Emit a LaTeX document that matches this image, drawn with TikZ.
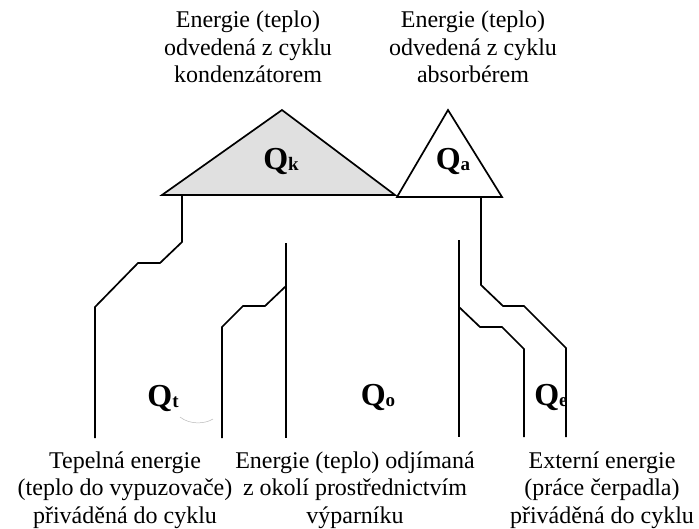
\documentclass[tikz,border=0pt]{standalone}
\usepackage{fontspec}
\setmainfont{Liberation Serif}
\usetikzlibrary{calc,positioning}
\definecolor{KondColor}{RGB}{224,224,224}
\newcommand{\qlab}[1]{{\fontsize{32}{32}\selectfont\bfseries Q\raisebox{-1.5pt}{\fontsize{19}{19}\selectfont #1}}}

\begin{document}
\begin{tikzpicture}[x=1pt,y=-1pt,line width=1.7pt,line join=miter,
  every node/.style={align=center,font=\fontsize{24}{27.5}\selectfont}]
\useasboundingbox (0,0) rectangle (699,528);
% trojuhelniky
\coordinate (kl) at (162,195); \coordinate (kt) at (282,110); \coordinate (kr) at (395,195);
\coordinate (al) at (397,197); \coordinate (at) at (448,110); \coordinate (ar) at (502,197);
\draw[fill=KondColor] (kl) -- (kt) -- (kr) -- cycle;
\draw (al) -- (at) -- (ar) -- cycle;
\node (qk) at (281,161) {\qlab{k}};
\node (qa) at (453,161) {\qlab{a}};
% potrubi
\coordinate (kp) at (182,195);
\coordinate (ap) at (481,197);
\draw (kp) -- (182,242) -- (160,263) -- (138,263) -- (95,307) -- (95,438);
\draw (286,243) -- (286,438);
\draw (286,286) -- (265,306) -- (243,306) -- (222,327) -- (222,438);
\draw (459,240) -- (459,437);
\draw (459,307) -- (480,327) -- (502,327) -- (524,349) -- (524,437);
\draw (ap) -- (481,285) -- (503,306) -- (524,306) -- (566,348) -- (566,437);
\draw[line width=0.5pt,gray!55] (180,417) .. controls (190,425) and (205,424) .. (213,419);
\node (qt) at (163,398) {\qlab{t}};
\node (qo) at (378,397) {\qlab{o}};
\node (qe) at (551,397) {\qlab{e}};
% popisky
\node (kondtxt) at (248,47) {Energie (teplo)\\odvedená z cyklu\\kondenzátorem};
\node (abstxt) at (473,47) {Energie (teplo)\\odvedená z cyklu\\absorbérem};
\node (vyptxt) at (125,490) {Tepelná energie\\(teplo do vypuzovače)\\přiváděná do cyklu};
\node (evaptxt) at (355,490) {Energie (teplo) odjímaná\\z okolí prostřednictvím\\výparníku};
\node (cerptxt) at (602,490) {Externí energie\\(práce čerpadla)\\přiváděná do cyklu};
\end{tikzpicture}
\end{document}
